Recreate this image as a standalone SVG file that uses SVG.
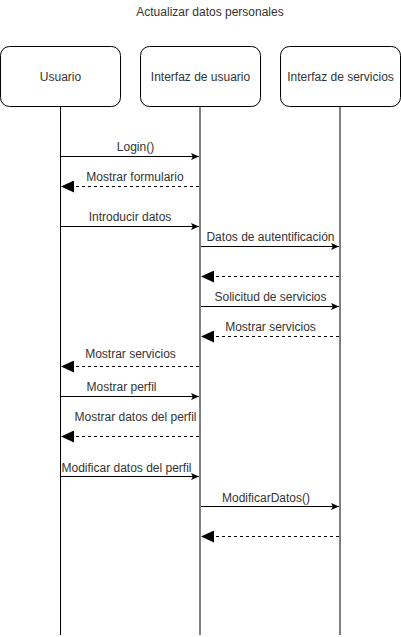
<svg xmlns="http://www.w3.org/2000/svg" width="401" height="637" viewBox="0 0 401 637">
<style>
text{font-family:"Liberation Sans",Arial,sans-serif;font-size:12px;fill:#333;text-anchor:middle}
.box{fill:#fff;stroke:#000;stroke-width:1}
.msg{stroke:#000;stroke-width:1;fill:none}
.ret{stroke:#000;stroke-width:1;fill:none;stroke-dasharray:3 3}
</style>
<defs>
<marker id="sync" viewBox="0 0 8 8" refX="8" refY="4" markerWidth="8" markerHeight="8" markerUnits="userSpaceOnUse" orient="auto">
<path d="M0,0.5 L8,4 L0,7.5 L1.8,4 Z" fill="#000"/>
</marker>
<marker id="block" viewBox="0 0 13 12" refX="13" refY="6" markerWidth="13" markerHeight="12" markerUnits="userSpaceOnUse" orient="auto">
<path d="M0,0 L13,6 L0,12 Z" fill="#000"/>
</marker>
</defs>
<text x="210" y="16">Actualizar datos personales</text>
<g id="lifelines">
<line x1="60.5" y1="106" x2="60.5" y2="635" stroke="#000" stroke-width="1"/>
<line x1="200" y1="106" x2="200" y2="635" stroke="#808080" stroke-width="2"/>
<line x1="340" y1="106" x2="340" y2="635" stroke="#808080" stroke-width="2"/>
</g>
<g id="usuario"><rect class="box" x="0.5" y="46.5" width="120" height="60" rx="9"/><text x="60.5" y="81">Usuario</text></g>
<g id="interfaz-usuario"><rect class="box" x="140.5" y="46.5" width="120" height="60" rx="9"/><text x="200.5" y="81">Interfaz de usuario</text></g>
<g id="interfaz-servicios"><rect class="box" x="280.5" y="46.5" width="120" height="60" rx="9"/><text x="340.5" y="81">Interfaz de servicios</text></g>
<g id="connectors">
<line class="msg" x1="61" y1="156.5" x2="199" y2="156.5" marker-end="url(#sync)"/>
<text x="135.5" y="151">Login()</text>
<line class="ret" x1="199" y1="186.5" x2="61" y2="186.5" marker-end="url(#block)"/>
<text x="135" y="181">Mostrar formulario</text>
<line class="msg" x1="61" y1="226.5" x2="199" y2="226.5" marker-end="url(#sync)"/>
<text x="130" y="221">Introducir datos</text>
<line class="msg" x1="201" y1="246.5" x2="339" y2="246.5" marker-end="url(#sync)"/>
<text x="270.5" y="241">Datos de autentificación</text>
<line class="ret" x1="339" y1="276.5" x2="201" y2="276.5" marker-end="url(#block)"/>
<line class="msg" x1="201" y1="306.5" x2="339" y2="306.5" marker-end="url(#sync)"/>
<text x="270.5" y="300.5">Solicitud de servicios</text>
<line class="ret" x1="339" y1="336.5" x2="201" y2="336.5" marker-end="url(#block)"/>
<text x="270.5" y="330.5">Mostrar servicios</text>
<line class="ret" x1="199" y1="366.5" x2="61" y2="366.5" marker-end="url(#block)"/>
<text x="130.5" y="358">Mostrar servicios</text>
<line class="msg" x1="61" y1="396.5" x2="199" y2="396.5" marker-end="url(#sync)"/>
<text x="121.5" y="391">Mostrar perfil</text>
<line class="ret" x1="199" y1="436.5" x2="61" y2="436.5" marker-end="url(#block)"/>
<text x="135.5" y="420.5">Mostrar datos del perfil</text>
<line class="msg" x1="61" y1="476.5" x2="199" y2="476.5" marker-end="url(#sync)"/>
<text x="126.5" y="471.5">Modificar datos del perfil</text>
<line class="msg" x1="201" y1="506.5" x2="339" y2="506.5" marker-end="url(#sync)"/>
<text x="266" y="501.5">ModificarDatos()</text>
<line class="ret" x1="339" y1="536.5" x2="201" y2="536.5" marker-end="url(#block)"/>
</g>
</svg>
